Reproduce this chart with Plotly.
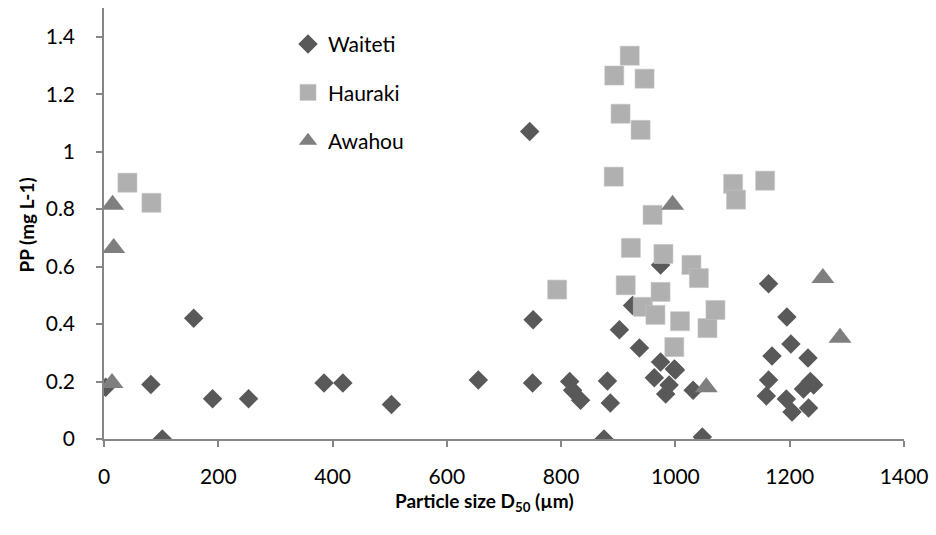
import plotly.graph_objects as go

# Waiteti (diamonds)
waiteti_x = [3, 82, 102, 157, 190, 253, 385, 418, 503, 655, 745, 751, 750,
             815, 820, 834, 875, 881, 886, 902, 925, 937, 963, 974, 974, 983, 989, 998, 1000,
             1031, 1047, 1163, 1195, 1202, 1169, 1232, 1163, 1159, 1194, 1204, 1233, 1224, 1242, 1236]
waiteti_y = [0.18, 0.19, 0.0, 0.42, 0.14, 0.14, 0.195, 0.195, 0.12, 0.205, 1.07, 0.415, 0.195,
             0.2, 0.17, 0.135, 0.0, 0.202, 0.125, 0.38, 0.465, 0.317, 0.213, 0.606, 0.268, 0.157, 0.188, 0.244, 0.24,
             0.17, 0.007, 0.54, 0.425, 0.331, 0.289, 0.282, 0.205, 0.15, 0.139, 0.094, 0.108, 0.174, 0.188, 0.2]

# Hauraki (squares)
hauraki_x = [41, 83, 793, 892, 893, 904, 913, 920, 922, 939, 943, 946, 960, 965, 974, 979,
             998, 1008, 1028, 1041, 1056, 1070, 1101, 1106, 1157]
hauraki_y = [0.892, 0.822, 0.52, 0.913, 1.265, 1.132, 0.535, 1.334, 0.665, 1.076, 0.46, 1.254, 0.78, 0.432, 0.512, 0.644,
             0.32, 0.41, 0.606, 0.56, 0.386, 0.449, 0.888, 0.833, 0.899]

# Awahou (triangles)
awahou_x = [14, 15, 17, 995, 1054, 1258, 1288]
awahou_y = [0.195, 0.815, 0.665, 0.815, 0.18, 0.56, 0.352]

x_ticks = [0, 200, 400, 600, 800, 1000, 1200, 1400]
y_ticks = [0, 0.2, 0.4, 0.6, 0.8, 1.0, 1.2, 1.4]
y_tick_text = ["0", "0.2", "0.4", "0.6", "0.8", "1", "1.2", "1.4"]

FONT = "Lato, 'Open Sans', sans-serif"
AXIS_COLOR = "#868686"

fig = go.Figure()
fig.add_trace(go.Scatter(x=waiteti_x, y=waiteti_y, mode="markers", name="Waiteti",
                         legendgroup="a",
                         marker=dict(symbol="diamond", size=15, color="#595959",
                                     line=dict(width=0))))
fig.add_trace(go.Scatter(x=hauraki_x, y=hauraki_y, mode="markers", name="Hauraki",
                         legendgroup="b",
                         marker=dict(symbol="square", size=19, color="#b0b0b0",
                                     line=dict(width=0.6, color="#c4c4c4"))))
fig.add_trace(go.Scatter(x=awahou_x, y=awahou_y, mode="markers", name="Awahou",
                         legendgroup="c",
                         marker=dict(symbol="triangle-up", size=20, color="#7f7f7f",
                                     line=dict(width=0))))

fig.update_layout(
    width=936, height=535,
    margin=dict(l=104, r=28, t=8, b=96),
    paper_bgcolor="white", plot_bgcolor="white",
    font=dict(family=FONT, size=21, color="black"),
    showlegend=True,
    legend=dict(x=0.23, y=0.963, xanchor="left", yanchor="top",
                bgcolor="rgba(0,0,0,0)", font=dict(size=21, family=FONT),
                tracegroupgap=18, itemwidth=30),
    xaxis=dict(range=[0, 1400], tickvals=x_ticks, showgrid=False, zeroline=False,
               showline=True, linecolor=AXIS_COLOR, linewidth=1.5,
               ticks="outside", ticklen=6, tickcolor=AXIS_COLOR, tickwidth=1.5,
               ticklabelstandoff=12,
               tickfont=dict(size=21, family=FONT)),
    yaxis=dict(range=[0, 1.5], tickvals=y_ticks, ticktext=y_tick_text, showgrid=False,
               zeroline=False, showline=True, linecolor=AXIS_COLOR, linewidth=1.5,
               ticks="outside", ticklen=6, tickcolor=AXIS_COLOR, tickwidth=1.5,
               ticklabelstandoff=17,
               tickfont=dict(size=21, family=FONT)),
    annotations=[
        dict(text="<b>Particle size D<sub>50</sub> (µm)</b>", xref="paper", yref="paper",
             x=0.476, y=-0.147, xanchor="center", yanchor="middle", showarrow=False,
             font=dict(size=19, family=FONT)),
        dict(text="<b>PP (mg L-1)</b>", xref="paper", yref="paper",
             x=-0.098, y=0.4965, xanchor="center", yanchor="middle", showarrow=False,
             textangle=-90, font=dict(size=19, family=FONT)),
    ],
)

fig.write_html("out.html", config={"displayModeBar": False},
               post_script="document.body.style.margin='0';document.body.style.overflow='hidden';")
